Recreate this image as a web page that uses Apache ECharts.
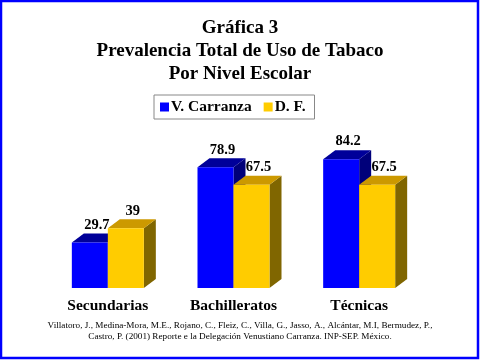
<!DOCTYPE html>
<html><head><meta charset="utf-8">
<script src="https://cdn.jsdelivr.net/npm/echarts@6/dist/echarts.min.js"></script>
<style>html,body{margin:0;padding:0;background:#fff}#c{width:480px;height:360px}</style>
</head><body><div id="c"></div>
<script>
const categories = ['Secundarias', 'Bachilleratos', 'Técnicas'];
const seriesNames = ['V. Carranza', 'D. F.'];
const carranza = [29.7, 78.9, 84.2];
const df = [39, 67.5, 67.5];
const titleLines = ['Gráfica 3', 'Prevalencia Total de Uso de Tabaco', 'Por Nivel Escolar'];
const footerLines = [
  'Villatoro, J., Medina-Mora, M.E., Rojano, C., Fleiz, C., Villa, G., Jasso, A., Alcántar, M.I, Bermudez, P.,',
  'Castro, P. (2001) Reporte e la Delegación Venustiano Carranza. INP-SEP. México.'
];

const SERIF = '"Liberation Serif","Times New Roman",serif';
const BAR_W = 36, DX = 12, DY = 9;
const palettes = [
  {front: '#0000FF', top: '#000099', side: '#00007A'},
  {front: '#FFCC00', top: '#CC9900', side: '#806600'}
];

function make3D(seriesIdx) {
  const pal = palettes[seriesIdx];
  return function (params, api) {
    const cat = api.value(0), val = api.value(1);
    const top = api.coord([cat, val]);
    const base = api.coord([cat, 0]);
    const x0 = top[0] - BAR_W + seriesIdx * BAR_W;
    const x1 = x0 + BAR_W;
    const yT = top[1], yB = base[1];
    return {
      type: 'group',
      children: [
        {type: 'polygon', shape: {points: [[x1, yB], [x1 + DX, yB - DY], [x1 + DX, yT - DY], [x1, yT]]}, style: {fill: pal.side}},
        {type: 'polygon', shape: {points: [[x0, yT], [x0 + DX, yT - DY], [x1 + DX, yT - DY], [x1, yT]]}, style: {fill: pal.top}},
        {type: 'rect', shape: {x: x0, y: yT, width: BAR_W, height: yB - yT}, style: {fill: pal.front}},
        {type: 'text', x: (x0 + x1) / 2 + 7, y: yT - DY - 1,
          style: {text: String(val), fill: '#000', font: 'bold 14.5px ' + SERIF, textAlign: 'center', textVerticalAlign: 'bottom'}}
      ]
    };
  };
}

const chart = echarts.init(document.getElementById('c'), null, {renderer: 'canvas'});
chart.setOption({
  animation: false,
  backgroundColor: '#fff',
  title: [
    {text: titleLines.join('\n'), left: 'center', top: 17, padding: 0,
      textStyle: {fontFamily: SERIF, fontWeight: 'bold', fontSize: 19, lineHeight: 23, color: '#000'}},
    {text: footerLines.join('\n'), left: 'center', top: 320, padding: 0,
      textStyle: {fontFamily: SERIF, fontWeight: 'normal', fontSize: 9.2, lineHeight: 11, color: '#000'}}
  ],
  legend: {
    data: seriesNames, left: 154, top: 95, orient: 'horizontal',
    icon: 'rect', itemWidth: 9, itemHeight: 9, itemGap: 12,
    padding: [4, 9, 4, 6], borderColor: '#888', borderWidth: 1,
    textStyle: {fontFamily: SERIF, fontWeight: 'bold', fontSize: 15.5, color: '#000', padding: [0, 0, 0, -3]}
  },
  grid: {left: 45, right: 58, top: 135, bottom: 72},
  xAxis: {
    type: 'category', data: categories,
    axisLine: {show: false}, axisTick: {show: false},
    axisLabel: {margin: 10, fontFamily: SERIF, fontWeight: 'bold', fontSize: 15.5, color: '#000'}
  },
  yAxis: {type: 'value', min: 0, max: 100, show: false, splitLine: {show: false}},
  series: [
    {name: seriesNames[0], type: 'custom', renderItem: make3D(0), itemStyle: {color: palettes[0].front},
      data: carranza.map((v, i) => [i, v]), encode: {x: 0, y: 1}, clip: false},
    {name: seriesNames[1], type: 'custom', renderItem: make3D(1), itemStyle: {color: palettes[1].front},
      data: df.map((v, i) => [i, v]), encode: {x: 0, y: 1}, clip: false}
  ],
  graphic: [
    {type: 'rect', shape: {x: 1, y: 1, width: 477, height: 357}, style: {fill: null, stroke: '#0000FF', lineWidth: 2.5}, z: 100}
  ]
});
</script></body></html>
